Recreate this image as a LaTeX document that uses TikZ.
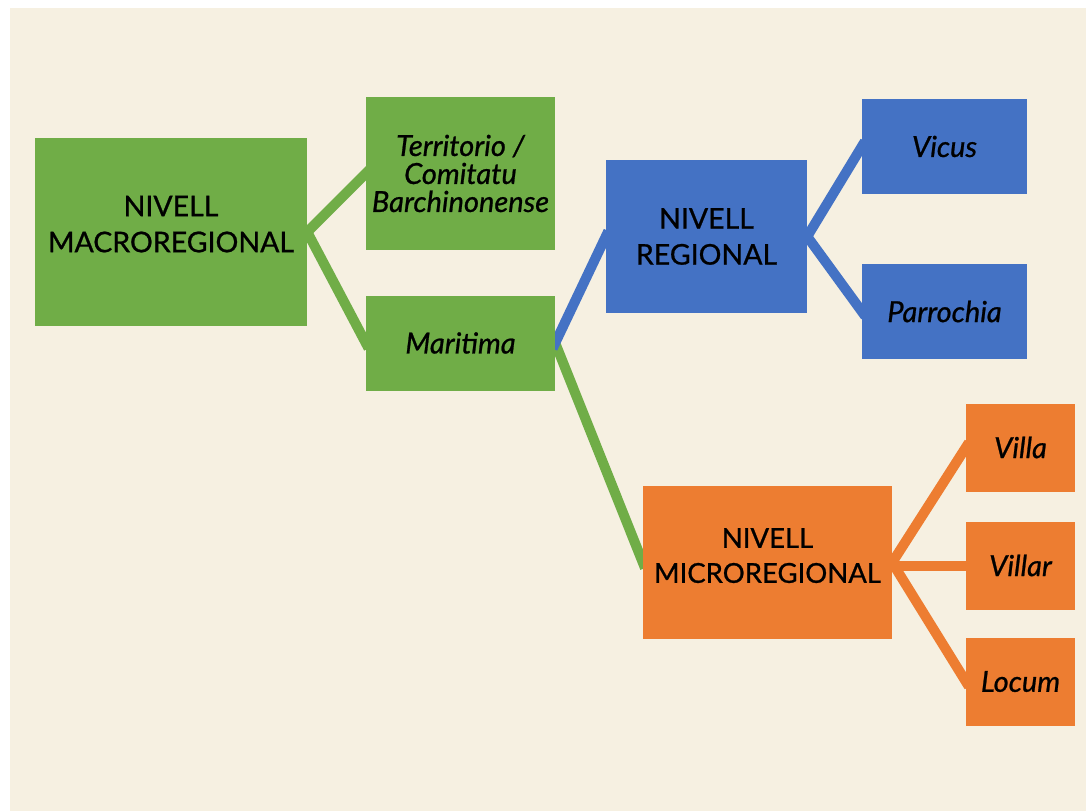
\documentclass[tikz,border=0pt]{standalone}
\usepackage{fontspec}
\setmainfont{Lato}
\usetikzlibrary{backgrounds}

\definecolor{paper}{HTML}{F6F0E1}
\definecolor{macrog}{HTML}{70AD47}
\definecolor{regb}{HTML}{4472C4}
\definecolor{microo}{HTML}{ED7D31}

\tikzset{
  lvl/.style={inner sep=0pt, align=center, text=black,
    font=\fontsize{28.5}{36}\selectfont\addfontfeatures{FakeBold=0.8}},
  item/.style={inner sep=0pt, align=center, text=black,
    font=\fontsize{29}{28}\selectfont\itshape\addfontfeatures{FakeBold=0.8}},
  link/.style={line width=10pt, shorten <=-6pt, shorten >=-6pt}
}

\begin{document}
\begin{tikzpicture}[x=1pt, y=-1pt]
\useasboundingbox (0,0) rectangle (1086,811);
\node[lvl, fill=macrog, minimum width=272pt, minimum height=188pt, text depth=16pt] (macro) at (171,232) {NIVELL\\MACROREGIONAL};
\node[item, fill=macrog, minimum width=189pt, minimum height=153pt] (terr) at (460.5,173.5) {Territorio /\\Comitatu\\Barchinonense};
\node[item, fill=macrog, minimum width=189pt, minimum height=95pt] (marit) at (460.5,343) {Maritima};
\node[lvl, fill=regb, minimum width=201pt, minimum height=153pt] (reg) at (706.5,236.5) {NIVELL\\REGIONAL};
\node[item, fill=regb, minimum width=165pt, minimum height=95pt] (vicus) at (944.5,146.5) {Vicus};
\node[item, fill=regb, minimum width=165pt, minimum height=95pt] (parr) at (944.5,311.5) {Parrochia};
\node[lvl, fill=microo, minimum width=249pt, minimum height=153pt, text depth=14pt,
  font=\fontsize{27.5}{35}\selectfont\addfontfeatures{FakeBold=0.8}] (micro) at (767.5,562.5) {NIVELL\\MICROREGIONAL};
\node[item, fill=microo, minimum width=109pt, minimum height=88pt] (villa) at (1020.5,447.5) {Villa};
\node[item, fill=microo, minimum width=109pt, minimum height=88pt] (villar) at (1020.5,565.5) {Villar};
\node[item, fill=microo, minimum width=109pt, minimum height=88pt] (locum) at (1020.5,681.5) {Locum};

\begin{pgfonlayer}{background}
\fill[paper] (10,8) rectangle (1086,811);
% green branches
\draw[link, macrog] (macro.east) -- (terr.west);
\draw[link, macrog] (macro.east) -- (marit.west);
\draw[link, macrog] (marit.east) -- (micro.west);
% blue branches
\draw[link, regb] (marit.east) -- (reg.west);
\draw[link, regb] (reg.east) -- (vicus.west);
\draw[link, regb] (reg.east) -- (parr.west);
% orange branches
\draw[link, microo] (micro.east) -- (villa.west);
\draw[link, microo] (micro.east |- villar.west) -- (villar.west);
\draw[link, microo] (micro.east) -- (locum.west);
\end{pgfonlayer}
\end{tikzpicture}
\end{document}
